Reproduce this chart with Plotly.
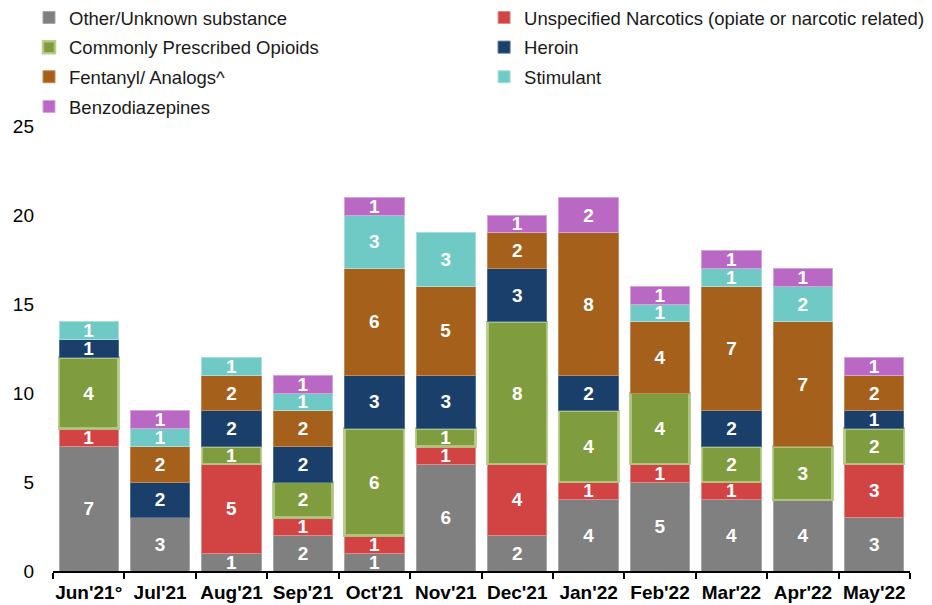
import plotly.graph_objects as go

months = ["Jun'21°", "Jul'21", "Aug'21", "Sep'21", "Oct'21", "Nov'21",
          "Dec'21", "Jan'22", "Feb'22", "Mar'22", "Apr'22", "May'22"]

other = [7, 3, 1, 2, 1, 6, 2, 4, 5, 4, 4, 3]
unspecified = [1, 0, 5, 1, 1, 1, 4, 1, 1, 1, 0, 3]
opioids = [4, 0, 1, 2, 6, 1, 8, 4, 4, 2, 3, 2]
heroin = [1, 2, 2, 2, 3, 3, 3, 2, 0, 2, 0, 1]
fentanyl = [0, 2, 2, 2, 6, 5, 2, 8, 4, 7, 7, 2]
stimulant = [1, 1, 1, 1, 3, 3, 0, 0, 1, 1, 2, 0]
benzo = [0, 1, 0, 1, 1, 0, 1, 2, 1, 1, 1, 1]

series = [
    ("Other/Unknown substance", other, "#808080", "#A6A6A6", 1, "legend"),
    ("Unspecified Narcotics (opiate or narcotic related)", unspecified, "#D24343", "#E08A8A", 1, "legend2"),
    ("Commonly Prescribed Opioids", opioids, "#7F9D3E", "rgba(178,201,132,0.9)", 2.5, "legend"),
    ("Heroin", heroin, "#1B3F6B", "#4F6E94", 1, "legend2"),
    ("Fentanyl/ Analogs^", fentanyl, "#A5601B", "#C48A55", 1, "legend"),
    ("Stimulant", stimulant, "#6FC9C5", "#A8DEDB", 1, "legend2"),
    ("Benzodiazepines", benzo, "#B969C4", "#D6A3DD", 1, "legend"),
]

FONT = "Arial, Liberation Sans, sans-serif"

fig = go.Figure()
for name, vals, color, lcolor, lw, lg in series:
    fig.add_trace(go.Bar(
        name=name, x=months, y=[v if v else None for v in vals],
        marker=dict(color=color, line=dict(color=lcolor, width=lw)),
        text=[str(v) if v else "" for v in vals],
        textposition="inside", insidetextanchor="middle", textangle=0,
        constraintext="none", cliponaxis=False,
        textfont=dict(family=FONT, size=19, color="white", weight="bold"),
        legend=lg, legendgroup=name, hoverinfo="x+y+name",
    ))

legend_common = dict(yanchor="top", xanchor="left", orientation="v", tracegroupgap=2.6,
                     font=dict(family=FONT, size=18.5, color="#1a1a1a"),
                     bgcolor="rgba(0,0,0,0)", itemclick=False)

fig.update_layout(
    barmode="stack",
    bargap=0.17,
    width=924, height=597,
    margin=dict(l=45, r=22, t=118, b=34, autoexpand=False),
    paper_bgcolor="white", plot_bgcolor="white",
    font=dict(family=FONT, size=19, color="black"),
    uniformtext=dict(mode=False),
    legend=dict(x=-0.028, y=1.2855, **legend_common),
    legend2=dict(x=0.503, y=1.2855, **legend_common),
    showlegend=True,
)
fig.update_xaxes(
    type="category", showline=True, linecolor="black", linewidth=1.5,
    ticks="outside", tickson="boundaries", ticklen=6, tickcolor="black", tickwidth=1.5,
    tickangle=0, ticklabelstandoff=3,
    tickfont=dict(family=FONT, size=19, color="black", weight="bold"),
    showgrid=False, automargin=False,
)
fig.update_yaxes(
    range=[0, 25], dtick=5, showgrid=False, zeroline=False, showline=False,
    ticks="", ticklabelstandoff=18,
    tickfont=dict(family=FONT, size=19, color="black"),
    automargin=False,
)

fig.write_html("out.html")
